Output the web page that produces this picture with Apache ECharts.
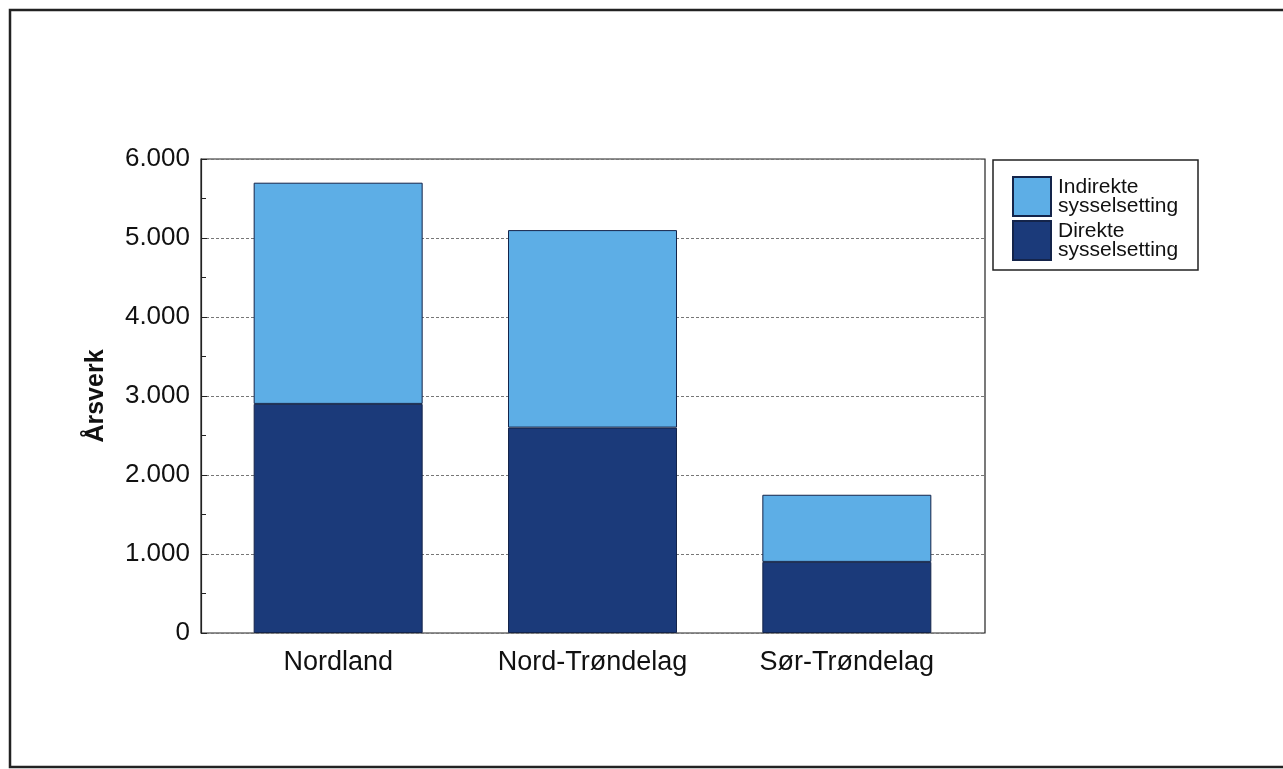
<!DOCTYPE html>
<html>
<head>
<meta charset="utf-8">
<script src="https://cdn.jsdelivr.net/npm/echarts@6/dist/echarts.min.js"></script>
<style>
html,body{margin:0;padding:0;background:#fff;}
#chart{width:1283px;height:769px;}
</style>
</head>
<body>
<div id="chart"></div>
<script>
const categories = ['Nordland', 'Nord-Trøndelag', 'Sør-Trøndelag'];
const direkte = [2900, 2600, 900];
const indirekte = [2800, 2500, 850];
const yTicks = [0, 1000, 2000, 3000, 4000, 5000, 6000];

const FONT = '"Liberation Sans", Arial, sans-serif';
const chart = echarts.init(document.getElementById('chart'));
function fmt(v){ return String(v).replace(/\B(?=(\d{3})+(?!\d))/g, '.'); }

chart.setOption({
  backgroundColor: '#fff',
  animation: false,
  textStyle: { fontFamily: FONT },
  grid: [
    { left: 201, right: 298, top: 159, bottom: 136, show: true, borderColor: '#222', borderWidth: 1.2, backgroundColor: 'transparent' },
    { left: 211, right: 309, top: 159, bottom: 136 }
  ],
  graphic: [
    { type: 'rect', shape: { x: 10, y: 10, width: 1290, height: 757 }, style: { fill: 'none', stroke: '#222', lineWidth: 2.5 }, silent: true, z: 0 },
    { type: 'rect', shape: { x: 993, y: 160, width: 205, height: 110 }, style: { fill: '#fff', stroke: '#222', lineWidth: 1.5 }, silent: true, z: 0 }
  ],
  legend: {
    orient: 'vertical', left: 1012, top: 176, padding: 0,
    itemWidth: 38, itemHeight: 39, itemGap: 3, icon: 'rect',
    data: ['Indirekte\nsysselsetting', 'Direkte\nsysselsetting'],
    textStyle: { fontFamily: FONT, fontSize: 21, lineHeight: 19, color: '#111', padding: [0, 0, 0, 2] }
  },
  xAxis: [
    { type: 'category', gridIndex: 0, data: categories, show: false },
    {
      type: 'category', gridIndex: 1, data: categories,
      axisLine: { show: false },
      axisTick: { show: false },
      axisLabel: { fontFamily: FONT, fontSize: 27, color: '#111', margin: 16 }
    }
  ],
  yAxis: [
    {
      type: 'value', gridIndex: 0, min: 0, max: 6000, interval: 1000,
      name: 'Årsverk', nameLocation: 'middle', nameGap: 92,
      nameTextStyle: { fontFamily: FONT, fontSize: 25, fontWeight: 'bold', color: '#111' },
      axisLine: { show: true, lineStyle: { color: '#222', width: 1.2 } },
      axisTick: { show: true, inside: true, length: 6, lineStyle: { color: '#222' } },
      minorTick: { show: true, splitNumber: 2, length: 5, lineStyle: { color: '#222' } },
      axisLabel: { fontFamily: FONT, fontSize: 26, color: '#111', margin: 11, formatter: fmt },
      splitLine: { show: true, lineStyle: { color: '#777', type: [3, 2], width: 1 } }
    },
    { type: 'value', gridIndex: 1, min: 0, max: 6000, interval: 1000, show: false, splitLine: { show: false } }
  ],
  series: [
    { name: 'Direkte\nsysselsetting', type: 'bar', stack: 'a', xAxisIndex: 1, yAxisIndex: 1, data: direkte, barWidth: 169,
      itemStyle: { color: '#1b3a7a', borderColor: '#14244a', borderWidth: 1 } },
    { name: 'Indirekte\nsysselsetting', type: 'bar', stack: 'a', xAxisIndex: 1, yAxisIndex: 1, data: indirekte, barWidth: 169,
      itemStyle: { color: '#5daee6', borderColor: '#14244a', borderWidth: 1 } }
  ]
});
</script>
</body>
</html>
